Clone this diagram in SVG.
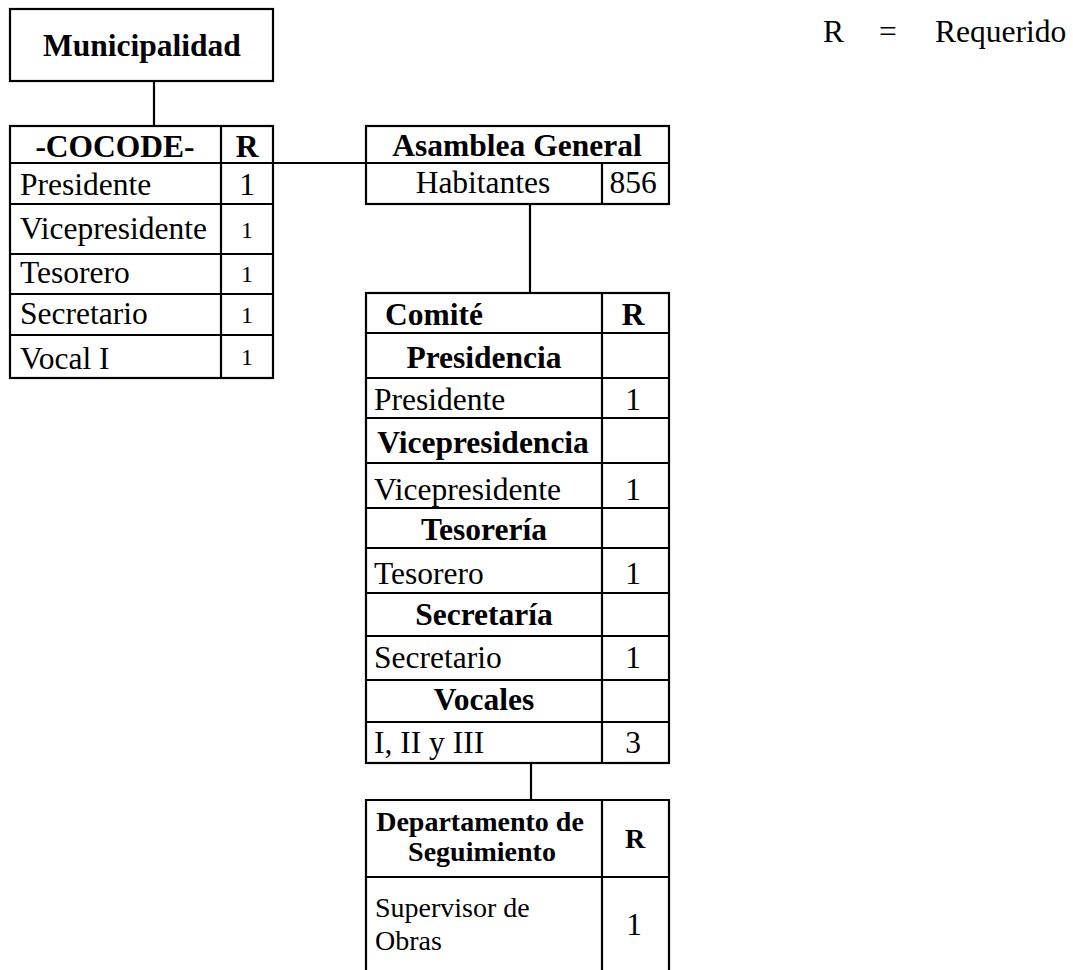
<svg xmlns="http://www.w3.org/2000/svg" width="1073" height="970" viewBox="0 0 1073 970">
<style>
.b{fill:none;stroke:#000;stroke-width:2.2}
.c{stroke:#000;stroke-width:2.2;fill:none}
text{font-family:"Liberation Serif","Times New Roman",serif;fill:#000}
.t{font-size:31.5px}
.tb{font-size:31.5px;font-weight:bold}
.s{font-size:24px}
.m{text-anchor:middle}
</style>
<rect width="1073" height="970" fill="#fff"/>
<g id="connectors">
<line class="c" x1="154" y1="81" x2="154" y2="126"/>
<line class="c" x1="273" y1="163" x2="366" y2="163"/>
<line class="c" x1="530" y1="204" x2="530" y2="293"/>
<line class="c" x1="531" y1="763" x2="531" y2="800"/>
</g>
<g id="municipalidad">
<rect class="b" x="10" y="9" width="263" height="72"/>
<text class="tb m" x="142" y="56">Municipalidad</text>
</g>
<g id="cocode">
<rect class="b" x="10" y="126" width="263" height="252"/>
<path class="c" d="M221 126V378M10 163H273M10 204H273M10 254H273M10 294H273M10 335H273"/>
<text class="tb m" x="115" y="157">-COCODE-</text>
<text class="tb m" x="247" y="157">R</text>
<text class="t" x="20" y="195">Presidente</text>
<text class="t m" x="247" y="195">1</text>
<text class="t" x="20" y="239">Vicepresidente</text>
<text class="s m" x="247" y="238">1</text>
<text class="t" x="20" y="283">Tesorero</text>
<text class="s m" x="247" y="282">1</text>
<text class="t" x="20" y="324">Secretario</text>
<text class="s m" x="247" y="323">1</text>
<text class="t" x="20" y="369">Vocal I</text>
<text class="s m" x="247" y="365">1</text>
</g>
<g id="asamblea">
<rect class="b" x="366" y="126" width="303" height="78"/>
<path class="c" d="M366 163H669M602 163V204"/>
<text class="tb m" x="517" y="156">Asamblea General</text>
<text class="t m" x="483" y="193">Habitantes</text>
<text class="t m" x="633" y="193">856</text>
</g>
<g id="comite">
<rect class="b" x="366" y="293" width="303" height="470"/>
<path class="c" d="M602 293V763M366 333H669M366 378H669M366 418H669M366 463H669M366 508H669M366 548H669M366 593H669M366 636H669M366 680H669M366 722H669"/>
<text class="tb" x="385" y="325">Comité</text>
<text class="tb m" x="633" y="325">R</text>
<text class="tb m" x="484" y="368">Presidencia</text>
<text class="t" x="374" y="410">Presidente</text>
<text class="t m" x="633" y="410">1</text>
<text class="tb m" x="483" y="453">Vicepresidencia</text>
<text class="t" x="374" y="500">Vicepresidente</text>
<text class="t m" x="633" y="500">1</text>
<text class="tb m" x="484" y="540">Tesorería</text>
<text class="t" x="374" y="584">Tesorero</text>
<text class="t m" x="633" y="584">1</text>
<text class="tb m" x="484" y="625">Secretaría</text>
<text class="t" x="374" y="668">Secretario</text>
<text class="t m" x="633" y="668">1</text>
<text class="tb m" x="484" y="710">Vocales</text>
<text class="t" x="374" y="753">I, II y III</text>
<text class="t m" x="633" y="753">3</text>
</g>
<g id="departamento">
<path class="c" d="M366 970V800H669V970M602 800V970M366 877H669"/>
<text class="m" x="480" y="831" style="font-size:28px;font-weight:bold">Departamento de</text>
<text class="m" x="482" y="861" style="font-size:28px;font-weight:bold">Seguimiento</text>
<text class="m" x="635" y="848" style="font-size:28px;font-weight:bold">R</text>
<text x="375" y="917" style="font-size:28px">Supervisor de</text>
<text x="375" y="950" style="font-size:28px">Obras</text>
<text class="t m" x="634" y="935">1</text>
</g>
<g id="legend">
<text class="t" x="823" y="42">R</text>
<text class="t m" x="888" y="42">=</text>
<text class="t" x="935" y="42">Requerido</text>
</g>
</svg>
